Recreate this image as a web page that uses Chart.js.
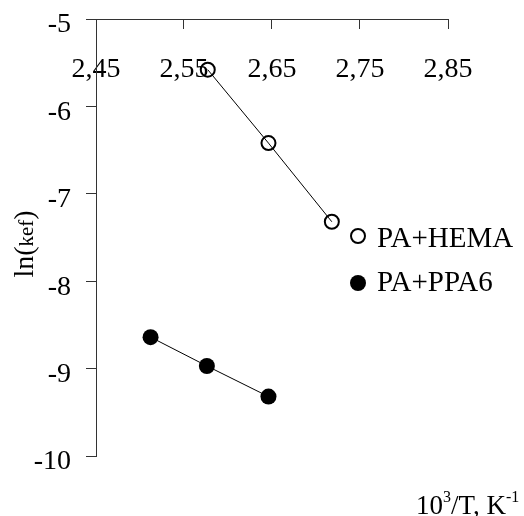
<!DOCTYPE html>
<html>
<head>
<meta charset="utf-8">
<script src="https://cdn.jsdelivr.net/npm/chart.js@4"></script>
<style>
  html, body { margin: 0; padding: 0; background: #fff; }
  #wrap { width: 524px; height: 516px; }
</style>
</head>
<body>
<div id="wrap"><canvas id="kinetics" width="524" height="516"></canvas></div>
<script>
// 10^3/T values and ln(kef) for both systems
const hemaX = [2.577, 2.646, 2.718];
const hemaY = [-5.58, -6.42, -7.32];
const ppaX = [2.512, 2.576, 2.646];
const ppaY = [-8.64, -8.97, -9.32];

const xTicks = [2.45, 2.55, 2.65, 2.75, 2.85];
const yTicks = [-10, -9, -8, -7, -6, -5];

const seriesNames = ['PA+HEMA', 'PA+PPA6'];

const SERIF = '"Liberation Serif", "Times New Roman", serif';
const AXIS = '#333';

function toPoints(xs, ys) {
  return xs.map((x, i) => ({ x: x, y: ys[i] }));
}

// keep the plot box fixed: no extra room reserved for edge labels
function noEdgePadding(s) {
  s.paddingTop = 0;
  s.paddingBottom = 0;
  s.paddingLeft = 0;
  s.paddingRight = 0;
}

// legend drawn inside the plot, right of the HEMA line
const legendBox = {
  id: 'legendBox',
  afterDatasetsDraw(chart) {
    const ctx = chart.ctx;
    const rows = [
      { name: seriesNames[0], my: 236, ty: 239, fill: false },
      { name: seriesNames[1], my: 283, ty: 283, fill: true }
    ];
    ctx.save();
    rows.forEach(r => {
      ctx.beginPath();
      ctx.arc(358, r.my, r.fill ? 8 : 7, 0, Math.PI * 2);
      if (r.fill) {
        ctx.fillStyle = '#000';
        ctx.fill();
      } else {
        ctx.lineWidth = 2;
        ctx.strokeStyle = '#000';
        ctx.stroke();
      }
      ctx.font = '29px ' + SERIF;
      ctx.fillStyle = '#000';
      ctx.textBaseline = 'middle';
      ctx.textAlign = 'left';
      ctx.fillText(r.name, 377, r.ty);
    });
    ctx.restore();
  }
};

// axis titles with sub/superscript parts
function drawRuns(ctx, runs, x, y) {
  runs.forEach(r => {
    ctx.font = r.size + 'px ' + SERIF;
    ctx.fillText(r.text, x, y + (r.dy || 0));
    x += ctx.measureText(r.text).width;
  });
}

const axisTitles = {
  id: 'axisTitles',
  afterDraw(chart) {
    const ctx = chart.ctx;
    ctx.save();
    ctx.fillStyle = '#000';
    ctx.textBaseline = 'alphabetic';
    ctx.textAlign = 'left';

    drawRuns(ctx, [
      { text: '10', size: 27 },
      { text: '3', size: 16, dy: -12 },
      { text: '/T, K', size: 27 },
      { text: '-1', size: 16, dy: -12 }
    ], 416, 514);

    ctx.translate(33, 244);
    ctx.rotate(-Math.PI / 2);
    const runs = [
      { text: 'ln(', size: 28 },
      { text: 'kef', size: 21 },
      { text: ')', size: 28 }
    ];
    let w = 0;
    runs.forEach(r => { ctx.font = r.size + 'px ' + SERIF; w += ctx.measureText(r.text).width; });
    drawRuns(ctx, runs, -w / 2, 0);
    ctx.restore();
  }
};

const ctx = document.getElementById('kinetics').getContext('2d');

new Chart(ctx, {
  type: 'scatter',
  data: {
    datasets: [
      {
        label: seriesNames[0],
        data: toPoints(hemaX, hemaY),
        showLine: true,
        borderColor: '#000',
        borderWidth: 1,
        pointRadius: 7,
        pointBorderWidth: 2,
        pointBorderColor: '#000',
        pointBackgroundColor: 'rgba(0,0,0,0)'
      },
      {
        label: seriesNames[1],
        data: toPoints(ppaX, ppaY),
        showLine: true,
        borderColor: '#000',
        borderWidth: 1,
        pointRadius: 8,
        pointBorderWidth: 0,
        pointBackgroundColor: '#000'
      }
    ]
  },
  options: {
    responsive: false,
    animation: false,
    layout: {
      padding: { left: 0, top: 0, right: 76, bottom: 60 }
    },
    plugins: {
      legend: { display: false },
      tooltip: { enabled: false }
    },
    scales: {
      x: {
        type: 'linear',
        position: 'top',
        min: 2.45,
        max: 2.85,
        afterBuildTicks: s => { s.ticks = xTicks.map(v => ({ value: v })); },
        afterFit: s => { s.height = 19; noEdgePadding(s); },
        border: { display: true, color: AXIS, width: 1 },
        grid: {
          drawOnChartArea: false,
          drawTicks: true,
          tickLength: -10,
          color: AXIS
        },
        ticks: {
          mirror: true,
          padding: 34,
          maxRotation: 0,
          minRotation: 0,
          autoSkip: false,
          color: '#000',
          font: { family: SERIF, size: 28 },
          callback: v => v.toFixed(2).replace('.', ',')
        }
      },
      y: {
        type: 'linear',
        position: 'left',
        min: -10,
        max: -5,
        afterBuildTicks: s => { s.ticks = yTicks.map(v => ({ value: v })); },
        afterFit: s => { s.width = 96; noEdgePadding(s); },
        border: { display: true, color: AXIS, width: 1 },
        grid: {
          drawOnChartArea: false,
          drawTicks: true,
          tickLength: 10,
          color: AXIS
        },
        ticks: {
          padding: 15,
          labelOffset: 6,
          color: '#000',
          font: { family: SERIF, size: 28 },
          callback: v => String(v)
        }
      }
    }
  },
  plugins: [legendBox, axisTitles]
});
</script>
</body>
</html>
